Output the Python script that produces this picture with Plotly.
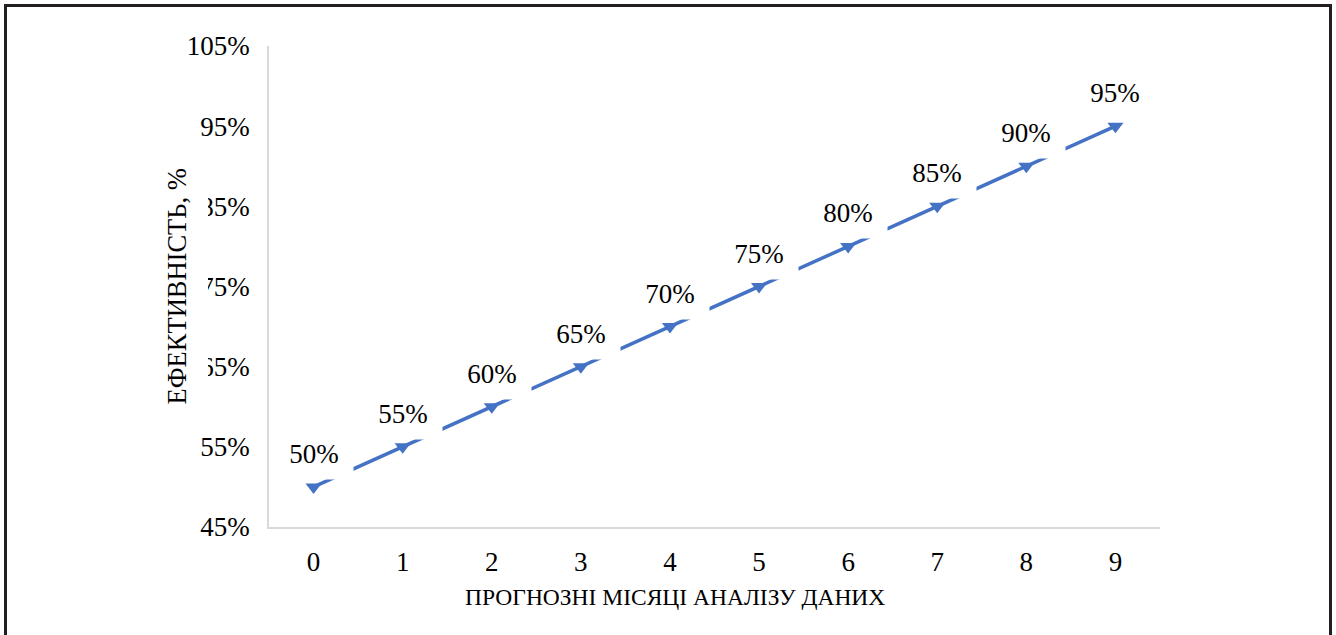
import plotly.graph_objects as go

# ---- data ----
months = [0, 1, 2, 3, 4, 5, 6, 7, 8, 9]
efficiency = [0.50, 0.55, 0.60, 0.65, 0.70, 0.75, 0.80, 0.85, 0.90, 0.95]
y_ticks = [0.45, 0.55, 0.65, 0.75, 0.85, 0.95, 1.05]
y_tick_text = ["45%", "55%", "65%", "75%", "85%", "95%", "105%"]
x_title = "ПРОГНОЗНІ МІСЯЦІ АНАЛІЗУ ДАНИХ"
y_title = "ЕФЕКТИВНІСТЬ, %"

W, H = 1336, 635
ML, MR, MT, MB = 269, 176, 46, 108
PW, PH = W - ML - MR, H - MT - MB
FONT = "Liberation Serif, Times New Roman, serif"
BLUE = "#4472C4"

fig = go.Figure()
fig.add_trace(go.Scatter(
    x=months, y=efficiency, mode="lines+markers",
    line=dict(color=BLUE, width=3.5),
    marker=dict(symbol="triangle-down", size=14, color=BLUE),
    showlegend=False, hoverinfo="skip",
))

annotations = []
for m, v in zip(months, efficiency):
    annotations.append(dict(
        x=m, y=v, xref="x", yref="y", text=f"{round(v*100)}%",
        showarrow=False, yanchor="bottom", yshift=7, valign="top",
        font=dict(family=FONT, size=27, color="black"),
        bgcolor="white", width=76, height=39, borderpad=1,
    ))

# y-axis title (white box overlapping the tick labels, as in the original)
annotations.append(dict(
    x=0, y=0.5, xref="paper", yref="paper", xshift=176 - ML,
    text=y_title, textangle=-90, showarrow=False,
    font=dict(family=FONT, size=26.5, color="black"),
    bgcolor="white", borderpad=16, xanchor="center", yanchor="middle",
))

# x-axis title (slightly left of the plot centre, as in the original)
annotations.append(dict(
    x=0.5, y=0, xref="paper", yref="paper", xshift=-40, yshift=-70,
    text=x_title, showarrow=False,
    font=dict(family=FONT, size=23.5, color="black"),
    xanchor="center", yanchor="middle",
))

def px_to_paper_x(px):
    return (px - ML) / PW

def px_to_paper_y(py):
    return 1 - (py - MT) / PH

fig.update_layout(
    width=W, height=H,
    margin=dict(l=ML, r=MR, t=MT, b=MB),
    paper_bgcolor="white", plot_bgcolor="white",
    font=dict(family=FONT, size=27, color="black"),
    annotations=annotations,
    shapes=[dict(
        type="rect", xref="paper", yref="paper", layer="above",
        x0=px_to_paper_x(5.5), x1=px_to_paper_x(1330.5),
        y0=px_to_paper_y(660), y1=px_to_paper_y(5.5),
        line=dict(color="#231F20", width=3), fillcolor="rgba(0,0,0,0)",
    )],
    xaxis=dict(
        range=[-0.5, 9.5], tickvals=months, ticktext=[str(m) for m in months],
        showgrid=False, zeroline=False, showline=True, linecolor="#D9D9D9", linewidth=1.5,
        ticks="", ticklabelstandoff=10,
        tickfont=dict(family=FONT, size=27, color="black"),
    ),
    yaxis=dict(
        range=[0.45, 1.05], tickvals=y_ticks, ticktext=y_tick_text,
        showgrid=False, zeroline=False, showline=True, linecolor="#D9D9D9", linewidth=1.5,
        ticks="", ticklabelstandoff=12,
        tickfont=dict(family=FONT, size=27, color="black"),
    ),
)

fig.write_html(
    "out.html",
    config={"displayModeBar": False},
    post_script="document.body.style.margin='0';document.body.style.overflow='hidden';",
)
